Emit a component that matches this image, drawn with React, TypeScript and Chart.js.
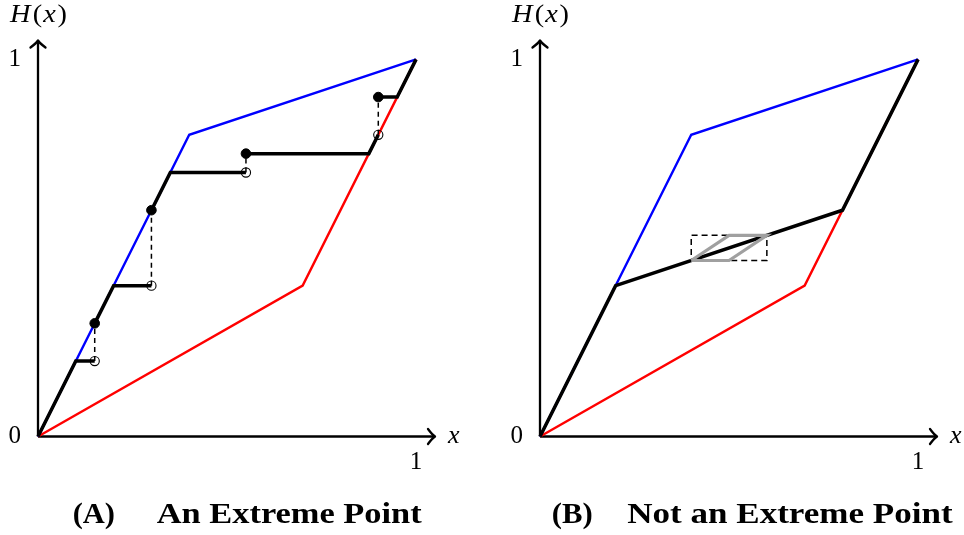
import React, { useEffect, useRef } from "react";
import { Chart, registerables } from "chart.js";

Chart.register(...registerables);

// ---------- data (values in axis units, 0..1) ----------
const AXIS_END = 1.05;
const X_TICKS = [1];
const Y_TICKS = [0, 1];

// upper (blue) and lower (red) bounds, shared by both panels
const blueBound: number[][] = [[0, 0], [0.4, 0.8], [1, 1]];
const redBound: number[][] = [[0, 0], [0.7, 0.4], [1, 1]];

// Panel A: step function pieces (black)
const stepsA: number[][][] = [
  [[0, 0], [0.1, 0.2], [0.15, 0.2]],
  [[0.15, 0.3], [0.2, 0.4], [0.3, 0.4]],
  [[0.3, 0.6], [0.35, 0.7], [0.55, 0.7]],
  [[0.55, 0.75], [0.875, 0.75], [0.9, 0.8]],
  [[0.9, 0.9], [0.95, 0.9], [1, 1]],
];
const jumpX = [0.15, 0.3, 0.55, 0.9];
const jumpLow = [0.2, 0.4, 0.7, 0.8];
const jumpHigh = [0.3, 0.6, 0.75, 0.9];

// Panel B
const blackB: number[][] = [[0, 0], [0.2, 0.4], [0.8, 0.6], [1, 1]];
const perturbB: number[][] = [[0.4, 0.4667], [0.5, 0.5333], [0.6, 0.5333], [0.5, 0.4667], [0.4, 0.4667]];
const boxB: number[][] = [[0.4, 0.4667], [0.6, 0.4667], [0.6, 0.5333], [0.4, 0.5333], [0.4, 0.4667]];

const PANEL_LABELS = ["(A)", "(B)"];
const PANEL_TITLES = ["An Extreme Point", "Not an Extreme Point"];

// ---------- helpers ----------
const pts = (a: number[][]) => a.map(([x, y]) => ({ x, y }));

const lineDs = (data: number[][], color: string, width: number, extra: any = {}) => ({
  data: pts(data),
  showLine: true,
  borderColor: color,
  backgroundColor: color,
  borderWidth: width,
  pointRadius: 0,
  tension: 0,
  clip: false,
  borderJoinStyle: "miter",
  ...extra,
});

const axisDs = () => [
  lineDs([[0, 0], [AXIS_END, 0]], "#000", 2.3),
  lineDs([[0, 0], [0, AXIS_END]], "#000", 2.3),
];

const SERIF = '"Liberation Serif", "DejaVu Serif", serif';

function drawFitted(ctx: CanvasRenderingContext2D, text: string, left: number, baseline: number, width: number, font: string) {
  ctx.font = font;
  const w = ctx.measureText(text).width;
  ctx.save();
  ctx.translate(left, baseline);
  ctx.scale(width / w, 1);
  ctx.textAlign = "left";
  ctx.textBaseline = "alphabetic";
  ctx.fillStyle = "#000";
  ctx.fillText(text, 0, 0);
  ctx.restore();
}

function buildDatasetsA() {
  const ds: any[] = [];
  ds.push({
    data: jumpX.map((x, i) => ({ x, y: jumpHigh[i] })),
    showLine: false,
    pointRadius: 4.8,
    pointBackgroundColor: "#000",
    pointBorderColor: "#000",
    pointBorderWidth: 1,
    clip: false,
  });
  ds.push({
    data: jumpX.map((x, i) => ({ x, y: jumpLow[i] })),
    showLine: false,
    pointRadius: 4.6,
    pointBackgroundColor: "rgba(0,0,0,0)",
    pointBorderColor: "#000",
    pointBorderWidth: 1.1,
    clip: false,
  });
  stepsA.forEach((s) => ds.push(lineDs(s, "#000", 3.5)));
  jumpX.forEach((x, i) =>
    ds.push(lineDs([[x, jumpLow[i]], [x, jumpHigh[i]]], "#000", 1.5, { borderDash: [5, 4] }))
  );
  ds.push(lineDs(blueBound, "#0000ff", 2.4));
  ds.push(lineDs(redBound, "#ff0000", 2.4));
  ds.push(...axisDs());
  return ds;
}

function buildDatasetsB() {
  const ds: any[] = [];
  ds.push(lineDs(perturbB, "#a0a0a0", 3.2));
  ds.push(lineDs(blackB, "#000", 3.5));
  ds.push(lineDs(boxB, "#000", 1.5, { borderDash: [6, 4] }));
  ds.push(lineDs(blueBound, "#0000ff", 2.4));
  ds.push(lineDs(redBound, "#ff0000", 2.4));
  ds.push(...axisDs());
  return ds;
}

const PANELS = [
  { originX: 38, rightPad: 47, labelLeft: 72.7, labelWidth: 42.3, titleLeft: 156.7, titleWidth: 265, build: buildDatasetsA },
  { originX: 58, rightPad: 27, labelLeft: 69.7, labelWidth: 41, titleLeft: 145.3, titleWidth: 325.3, build: buildDatasetsB },
];

const W = 482;
const H = 535;

function Panel({ idx }: { idx: number }) {
  const ref = useRef<HTMLCanvasElement | null>(null);
  useEffect(() => {
    const p = PANELS[idx];
    const deco = {
      id: "deco",
      afterDraw(chart: any) {
        const ctx: CanvasRenderingContext2D = chart.ctx;
        const xs = chart.scales.x;
        const ys = chart.scales.y;
        const x0 = xs.getPixelForValue(0);
        const y0 = ys.getPixelForValue(0);
        const xe = xs.getPixelForValue(AXIS_END);
        const ye = ys.getPixelForValue(AXIS_END);
        ctx.save();
        ctx.strokeStyle = "#000";
        ctx.lineWidth = 2.3;
        ctx.lineCap = "round";
        ctx.lineJoin = "round";
        ctx.beginPath();
        ctx.moveTo(xe - 7, y0 - 7.5);
        ctx.quadraticCurveTo(xe - 3, y0 - 2, xe, y0);
        ctx.quadraticCurveTo(xe - 3, y0 + 2, xe - 7, y0 + 7.5);
        ctx.stroke();
        ctx.beginPath();
        ctx.moveTo(x0 - 7.5, ye + 7);
        ctx.quadraticCurveTo(x0 - 2, ye + 3, x0, ye);
        ctx.quadraticCurveTo(x0 + 2, ye + 3, x0 + 7.5, ye + 7);
        ctx.stroke();

        ctx.fillStyle = "#000";
        ctx.textAlign = "left";
        ctx.textBaseline = "alphabetic";
        // H(x), fitted to the reference width
        const parts: [string, string][] = [
          ["H", `italic 25px ${SERIF}`],
          ["(", `25px ${SERIF}`],
          ["x", `italic 25px ${SERIF}`],
          [")", `25px ${SERIF}`],
        ];
        const gaps = [2, 1, 1.5, 0];
        let total = 0;
        parts.forEach(([t, f], i) => {
          ctx.font = f;
          total += ctx.measureText(t).width + gaps[i];
        });
        const sx = 57 / total;
        ctx.save();
        ctx.translate(x0 - 28, 21.5);
        ctx.scale(sx, 1);
        let cx = 0;
        parts.forEach(([t, f], i) => {
          ctx.font = f;
          ctx.fillText(t, cx, 0);
          cx += ctx.measureText(t).width + gaps[i];
        });
        ctx.restore();
        // x label
        ctx.font = `italic 26px ${SERIF}`;
        ctx.fillText("x", xe + 13, y0 + 6.5);
        // panel titles
        drawFitted(ctx, PANEL_LABELS[idx], p.labelLeft, 523.3, p.labelWidth, `bold 29px ${SERIF}`);
        drawFitted(ctx, PANEL_TITLES[idx], p.titleLeft, 523.3, p.titleWidth, `bold 29px ${SERIF}`);
        ctx.restore();
      },
    };
    const chart = new Chart(ref.current as HTMLCanvasElement, {
      type: "scatter",
      data: { datasets: p.build() },
      options: {
        animation: false,
        responsive: false,
        events: [],
        layout: { padding: { top: 40.5, right: p.rightPad, left: 0, bottom: 0 } },
        plugins: { legend: { display: false }, tooltip: { enabled: false } },
        scales: {
          x: {
            type: "linear",
            min: 0,
            max: AXIS_END,
            grid: { display: false, drawTicks: false },
            border: { display: false },
            afterBuildTicks: (s: any) => {
              s.ticks = X_TICKS.map((v) => ({ value: v }));
            },
            afterFit: (s: any) => {
              s.height = 98.5;
            },
            ticks: {
              autoSkip: false,
              maxRotation: 0,
              padding: 11,
              color: "#000",
              font: { family: SERIF, size: 25 },
              callback: (v: any) => String(v),
            },
          },
          y: {
            type: "linear",
            min: 0,
            max: AXIS_END,
            grid: { display: false, drawTicks: false },
            border: { display: false },
            afterBuildTicks: (s: any) => {
              s.ticks = Y_TICKS.map((v) => ({ value: v }));
            },
            afterFit: (s: any) => {
              s.width = p.originX;
            },
            ticks: {
              autoSkip: false,
              padding: 17,
              color: "#000",
              font: { family: SERIF, size: 25 },
              callback: (v: any) => String(v),
            },
          },
        },
      } as any,
      plugins: [deco],
    });
    return () => chart.destroy();
  }, [idx]);
  return (
    <div style={{ width: W, height: H }}>
      <canvas ref={ref} width={W} height={H} style={{ width: W, height: H, display: "block" }} />
    </div>
  );
}

export default function App() {
  return (
    <div style={{ position: "absolute", left: 0, top: 0, width: 964, height: 535, display: "flex", background: "#fff" }}>
      <Panel idx={0} />
      <Panel idx={1} />
    </div>
  );
}
